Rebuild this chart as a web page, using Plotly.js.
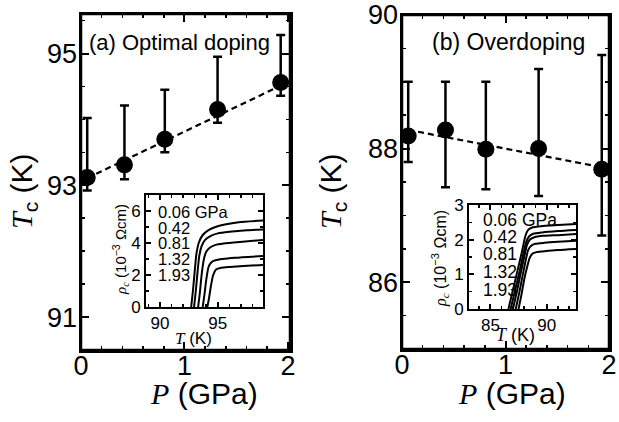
<!DOCTYPE html>
<html><head><meta charset="utf-8">
<script src="https://cdn.plot.ly/plotly-3.0.1.min.js"></script>
<style>html,body{margin:0;padding:0;background:#fff;}#chart{width:619px;height:422px;}</style>
</head><body><div id="chart"></div>
<script>
// ---- main panels ----
const pressure = [0.06, 0.42, 0.81, 1.32, 1.93];
const tcOptimal = [93.12, 93.31, 93.70, 94.15, 94.56];
const tcOptimalErrPlus = [0.90, 0.90, 0.75, 0.80, 0.72];
const tcOptimalErrMinus = [0.20, 0.22, 0.20, 0.20, 0.20];
const fitOptimalP = [0.06, 2.02];
const fitOptimalTc = [93.11, 94.58];

const tcOver = [88.19, 88.28, 87.99, 88.00, 87.69];
const tcOverErrPlus = [0.81, 0.72, 1.01, 1.19, 1.71];
const tcOverErrMinus = [0.39, 0.86, 0.60, 0.71, 0.99];
const fitOverP = [0.06, 2.00];
const fitOverTc = [88.28, 87.70];

const tickP = [0, 1, 2];
const tickTcA = [91, 93, 95];
const tickTcB = [86, 88, 90];

// ---- inset (a): rho_c vs T ----
const insetLabels = ["0.06 GPa", "0.42", "0.81", "1.32", "1.93"];
const insetA_T = [
  [92.7, 92.85, 93.0, 93.15, 93.35, 93.7, 94.2, 94.8, 95.6, 96.8, 98.9],
  [92.95, 93.1, 93.25, 93.4, 93.6, 93.9, 94.4, 95.0, 96.0, 97.5, 98.9],
  [93.3, 93.45, 93.6, 93.8, 94.0, 94.3, 94.8, 95.5, 96.9, 98.9],
  [93.7, 93.85, 94.0, 94.2, 94.45, 94.8, 95.4, 96.5, 98.9],
  [94.1, 94.25, 94.4, 94.6, 94.85, 95.3, 96.0, 97.2, 98.9]
];
const insetA_rho = [
  [0, 1.0, 2.2, 3.3, 4.0, 4.5, 4.8, 5.0, 5.15, 5.3, 5.4],
  [0, 1.0, 2.2, 3.2, 3.8, 4.2, 4.45, 4.6, 4.7, 4.8, 4.85],
  [0, 0.9, 2.0, 3.0, 3.45, 3.7, 3.88, 3.97, 4.07, 4.19],
  [0, 0.8, 1.7, 2.5, 2.8, 2.92, 3.0, 3.08, 3.19],
  [0, 0.6, 1.3, 2.0, 2.35, 2.45, 2.5, 2.56, 2.63]
];
// ---- inset (b) ----
const insetB_T = [
  [86.6, 87.0, 87.4, 87.8, 88.1, 88.35, 88.7, 89.5, 91.0, 92.6],
  [86.8, 87.2, 87.6, 87.9, 88.2, 88.45, 88.8, 89.6, 91.0, 92.6],
  [87.0, 87.35, 87.7, 88.0, 88.25, 88.5, 88.9, 89.7, 91.0, 92.6],
  [87.25, 87.55, 87.85, 88.1, 88.35, 88.6, 89.0, 89.8, 91.0, 92.6],
  [87.5, 87.75, 88.0, 88.25, 88.5, 88.75, 89.1, 89.9, 91.0, 92.6]
];
const insetB_rho = [
  [0, 0.55, 1.1, 1.65, 2.1, 2.28, 2.35, 2.39, 2.42, 2.45],
  [0, 0.55, 1.1, 1.55, 1.95, 2.1, 2.17, 2.21, 2.25, 2.28],
  [0, 0.5, 1.05, 1.5, 1.85, 2.0, 2.07, 2.11, 2.13, 2.16],
  [0, 0.45, 0.95, 1.35, 1.7, 1.82, 1.88, 1.91, 1.94, 1.97],
  [0, 0.4, 0.85, 1.2, 1.48, 1.6, 1.64, 1.67, 1.7, 1.73]
];

const SANS = "Liberation Sans, Arial, sans-serif";
const W = 619, H = 422;
const px = x => x / W, py = y => (H - y) / H;

function axis(opts) {
  return Object.assign({
    showline: true, linecolor: "#000", linewidth: 2.5, mirror: "allticks",
    ticks: "inside", ticklen: 8, tickwidth: 2, tickcolor: "#000",
    showgrid: false, zeroline: false, fixedrange: true,
    tickfont: {family: SANS, size: 27, color: "#000"}
  }, opts);
}
const minorP = {dtick: 0.2, ticklen: 4, tickwidth: 1.5, ticks: "inside", tickcolor: "#000"};
const minorT = {dtick: 0.5, ticklen: 4, tickwidth: 1.5, ticks: "inside", tickcolor: "#000"};

const traces = [];
traces.push({x: fitOptimalP, y: fitOptimalTc, xaxis: "x", yaxis: "y", mode: "lines",
  line: {color: "#000", width: 2.2, dash: "6px,4px"}, hoverinfo: "skip"});
traces.push({x: pressure, y: tcOptimal, xaxis: "x", yaxis: "y", mode: "markers",
  marker: {size: 17, color: "#000"},
  error_y: {type: "data", symmetric: false, array: tcOptimalErrPlus, arrayminus: tcOptimalErrMinus,
    color: "#000", thickness: 2.5, width: 4.5}});
traces.push({x: fitOverP, y: fitOverTc, xaxis: "x2", yaxis: "y2", mode: "lines",
  line: {color: "#000", width: 2.2, dash: "6px,4px"}, hoverinfo: "skip"});
traces.push({x: pressure, y: tcOver, xaxis: "x2", yaxis: "y2", mode: "markers",
  marker: {size: 17, color: "#000"},
  error_y: {type: "data", symmetric: false, array: tcOverErrPlus, arrayminus: tcOverErrMinus,
    color: "#000", thickness: 2.5, width: 4.5}});
for (let i = 0; i < insetA_T.length; i++) {
  traces.push({x: insetA_T[i], y: insetA_rho[i], xaxis: "x3", yaxis: "y3", mode: "lines",
    line: {color: "#000", width: 2, shape: "spline", smoothing: 0.6}});
}
for (let i = 0; i < insetB_T.length; i++) {
  traces.push({x: insetB_T[i], y: insetB_rho[i], xaxis: "x4", yaxis: "y4", mode: "lines",
    line: {color: "#000", width: 2, shape: "spline", smoothing: 0.6}});
}

const insetTickFont = {family: SANS, size: 17, color: "#000"};
const rangeXA = [0, 2.02], rangeYA = [90.5, 95.6], rangeXB = [0, 2.0], rangeYB = [85, 90];
const layout = {
  width: W, height: H, margin: {l: 0, r: 0, t: 0, b: 0},
  paper_bgcolor: "#fff", plot_bgcolor: "rgba(0,0,0,0)", showlegend: false,
  xaxis: axis({domain: [px(81), px(290)], range: rangeXA, tickvals: tickP, minor: minorP,
    anchor: "y", ticklabelstandoff: -10}),
  yaxis: axis({domain: [py(350), py(14)], range: rangeYA, tickvals: tickTcA, minor: minorT,
    anchor: "x", ticklabelstandoff: -4}),
  xaxis2: axis({domain: [px(402), px(609)], range: rangeXB, tickvals: tickP, minor: minorP,
    anchor: "y2", ticklabelstandoff: -10}),
  yaxis2: axis({domain: [py(349), py(15)], range: rangeYB, tickvals: tickTcB, minor: minorT,
    anchor: "x2", ticklabelstandoff: -4}),
  // mirrored frame sides with inside ticks (top / right)
  xaxis5: axis({overlaying: "x", side: "top", anchor: "y", range: rangeXA, tickvals: tickP,
    minor: minorP, showticklabels: false, mirror: false}),
  yaxis5: axis({overlaying: "y", side: "right", anchor: "x", range: rangeYA, tickvals: tickTcA,
    minor: minorT, showticklabels: false, mirror: false}),
  xaxis6: axis({overlaying: "x2", side: "top", anchor: "y2", range: rangeXB, tickvals: tickP,
    minor: minorP, showticklabels: false, mirror: false}),
  yaxis6: axis({overlaying: "y2", side: "right", anchor: "x2", range: rangeYB, tickvals: tickTcB,
    minor: minorT, showticklabels: false, mirror: false}),
  xaxis3: axis({domain: [px(146), px(263)], range: [88.8, 98.9], tickvals: [90, 95], linewidth: 2,
    ticklen: 5, tickfont: insetTickFont,
    minor: {dtick: 1, ticklen: 3, tickwidth: 1.5, ticks: "inside", tickcolor: "#000"}, anchor: "y3"}),
  yaxis3: axis({domain: [py(307), py(195)], range: [0, 7], tickvals: [0, 2, 4, 6], linewidth: 2,
    ticklen: 5, tickfont: insetTickFont,
    minor: {dtick: 1, ticklen: 3, tickwidth: 1.5, ticks: "inside", tickcolor: "#000"}, anchor: "x3"}),
  xaxis4: axis({domain: [px(469), px(576)], range: [83.1, 92.6], tickvals: [85, 90], linewidth: 2,
    ticklen: 5, tickfont: insetTickFont,
    minor: {dtick: 1, ticklen: 3, tickwidth: 1.5, ticks: "inside", tickcolor: "#000"}, anchor: "y4"}),
  yaxis4: axis({domain: [py(309), py(205)], range: [0, 3], tickvals: [0, 1, 2, 3], linewidth: 2,
    ticklen: 5, tickfont: insetTickFont,
    minor: {dtick: 0.5, ticklen: 3, tickwidth: 1.5, ticks: "inside", tickcolor: "#000"}, anchor: "x4"}),
  shapes: [
    {type: "rect", xref: "x domain", yref: "y domain", x0: 0, x1: 1, y0: 0, y1: 1,
      line: {color: "#000", width: 2.5}, layer: "above"},
    {type: "rect", xref: "x2 domain", yref: "y2 domain", x0: 0, x1: 1, y0: 0, y1: 1,
      line: {color: "#000", width: 2.5}, layer: "above"}
  ],
  annotations: []
};

function ann(x, y, text, size, extra) {
  layout.annotations.push(Object.assign({
    xref: "paper", yref: "paper", x: px(x), y: py(y), text: text, showarrow: false,
    xanchor: "center", yanchor: "middle", font: {family: SANS, size: size, color: "#000"}
  }, extra || {}));
}
const serifI = s => "<span style='font-family:Liberation Serif,Times New Roman,serif'><i>" + s + "</i></span>";

ann(87, 42, "(a) Optimal doping", 22, {xanchor: "left"});
ann(430, 42, "(b) Overdoping", 23, {xanchor: "left"});
ann(24, 191, serifI("T") + "<sub>c</sub> (K)", 30, {textangle: -90});
ann(333, 191, serifI("T") + "<sub>c</sub> (K)", 30, {textangle: -90});
ann(204, 393, serifI("P") + " (GPa)", 30);
ann(512, 393, serifI("P") + " (GPa)", 30);

const labA_y = [211.7, 228.3, 243.3, 259, 275];
const labB_y = [220, 236.7, 254.3, 272.3, 290];
insetLabels.forEach((t, i) => {
  ann(156, labA_y[i], t, 16.5, {xanchor: "left"});
  ann(481, labB_y[i], t, 17.5, {xanchor: "left"});
});
const rhoTitle = serifI("ρ") + "<sub>" + serifI("c") + "</sub> (10<sup>−3</sup> Ωcm)";
ann(120, 250, rhoTitle, 15, {textangle: -90});
ann(440, 259, rhoTitle, 16, {textangle: -90});
ann(193, 338, serifI("T") + " (K)", 17);
ann(515, 335, serifI("T") + " (K)", 18);

Plotly.newPlot("chart", traces, layout, {staticPlot: true, displayModeBar: false});
</script></body></html>
